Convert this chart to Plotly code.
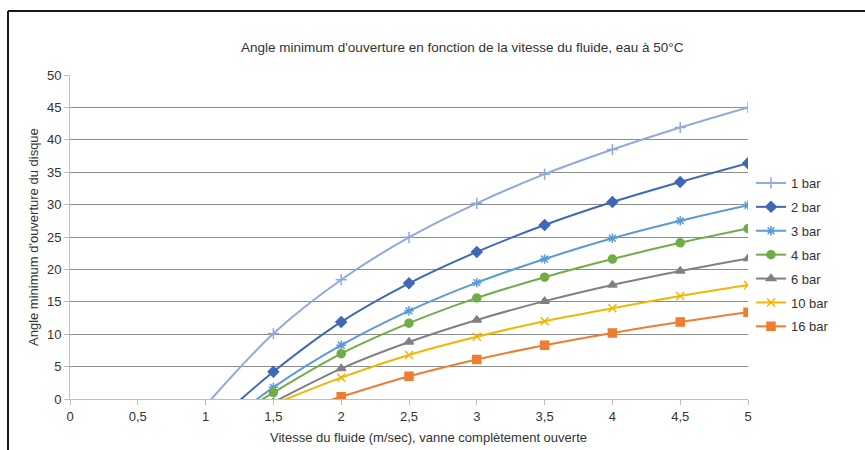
import plotly.graph_objects as go

# ---- data (points below 0 are hidden by the axis range) ----
x_1bar = [1, 1.5, 2, 2.5, 3, 3.5, 4, 4.5, 5]
y_1bar = [-1.0, 10.1, 18.4, 24.95, 30.2, 34.7, 38.5, 41.9, 45.0]

x_2bar = [1, 1.5, 2, 2.5, 3, 3.5, 4, 4.5, 5]
y_2bar = [-4.9, 4.2, 11.9, 17.85, 22.7, 26.85, 30.4, 33.5, 36.4]

x_3bar = [1, 1.5, 2, 2.5, 3, 3.5, 4, 4.5, 5]
y_3bar = [-6.1, 1.8, 8.3, 13.6, 17.95, 21.6, 24.8, 27.5, 29.9]

x_4bar = [1, 1.5, 2, 2.5, 3, 3.5, 4, 4.5, 5]
y_4bar = [-5.6, 1.0, 7.0, 11.7, 15.6, 18.8, 21.6, 24.1, 26.3]

x_6bar = [1.5, 2, 2.5, 3, 3.5, 4, 4.5, 5]
y_6bar = [-0.5, 4.7, 8.8, 12.2, 15.1, 17.6, 19.75, 21.7]

x_10bar = [1.5, 2, 2.5, 3, 3.5, 4, 4.5, 5]
y_10bar = [-0.8, 3.3, 6.8, 9.6, 12.0, 14.0, 15.9, 17.6]

x_16bar = [1.5, 2, 2.5, 3, 3.5, 4, 4.5, 5]
y_16bar = [-2.9, 0.35, 3.5, 6.1, 8.3, 10.2, 11.9, 13.4]

series_names = ["1 bar", "2 bar", "3 bar", "4 bar", "6 bar", "10 bar", "16 bar"]
series_x = [x_1bar, x_2bar, x_3bar, x_4bar, x_6bar, x_10bar, x_16bar]
series_y = [y_1bar, y_2bar, y_3bar, y_4bar, y_6bar, y_10bar, y_16bar]

x_ticks = [0, 0.5, 1, 1.5, 2, 2.5, 3, 3.5, 4, 4.5, 5]
y_ticks = [0, 5, 10, 15, 20, 25, 30, 35, 40, 45, 50]

title_text = "Angle minimum d'ouverture en fonction de la vitesse du fluide, eau à 50°C"
x_title = "Vitesse du fluide (m/sec), vanne complètement ouverte"
y_title = "Angle minimum d'ouverture du disque"

# ---- styles ----
colors = ["#8EA9DB", "#3F68B5", "#5B9BD5", "#70AD47", "#808080", "#F2B600", "#ED7D31"]
symbols = ["cross-thin-open", "diamond", "asterisk-open", "circle", "triangle-up",
           "x-thin-open", "square"]
sizes = [8, 8, 8, 8, 8, 8, 8]

FONT = "Liberation Sans, Arial, Helvetica, sans-serif"

fig = go.Figure()
for name, xs, ys, c, s, ms in zip(series_names, series_x, series_y, colors, symbols, sizes):
    fig.add_trace(go.Scatter(
        x=xs, y=ys, name=name, mode="lines+markers",
        line=dict(color=c, width=2, shape="spline", smoothing=0.9),
        marker=dict(symbol=s, size=ms, color=c, line=dict(color=c, width=1.5)),
        legendgroup=name, cliponaxis=True,
    ))

L, R, T, B = 70, 117, 75, 51
W, H = 865, 450
pw, ph = W - L - R, H - T - B

def px_x(p):
    return (p - L) / pw

def px_y(p):
    return (H - B - p) / ph

fig.update_layout(
    width=W, height=H,
    margin=dict(l=L, r=R, t=T, b=B, pad=0),
    paper_bgcolor="white", plot_bgcolor="white",
    separators=", ",
    font=dict(family=FONT, size=13, color="#333333"),
    showlegend=True,
    legend=dict(
        x=px_x(751), y=px_y(168), xanchor="left", yanchor="top",
        font=dict(family=FONT, size=13, color="#333333"),
        tracegroupgap=4, bgcolor="rgba(0,0,0,0)",
    ),
    xaxis=dict(
        range=[0, 5], tickvals=x_ticks, ticktext=[str(v).replace(".", ",") for v in x_ticks],
        showgrid=False, zeroline=False,
        showline=True, linecolor="#BFBFBF", linewidth=1,
        ticks="outside", ticklen=5, tickcolor="#BFBFBF",
        tickfont=dict(family=FONT, size=13, color="#333333"),
        fixedrange=True,
    ),
    yaxis=dict(
        range=[0, 50], tickvals=y_ticks,
        showgrid=True, gridcolor="#8C8C8C", gridwidth=1, zeroline=False,
        showline=True, linecolor="#BFBFBF", linewidth=1,
        ticks="outside", ticklen=5, tickcolor="#BFBFBF",
        tickfont=dict(family=FONT, size=13, color="#333333"),
        fixedrange=True,
    ),
    annotations=[
        dict(text=title_text, xref="paper", yref="paper", x=px_x(462), y=px_y(47),
             xanchor="center", yanchor="middle", showarrow=False,
             font=dict(family=FONT, size=13.5, color="#333333")),
        dict(text=x_title, xref="paper", yref="paper", x=px_x(428), y=px_y(437),
             xanchor="center", yanchor="middle", showarrow=False,
             font=dict(family=FONT, size=13, color="#333333")),
        dict(text=y_title, xref="paper", yref="paper", x=px_x(33), y=px_y(237),
             xanchor="center", yanchor="middle", showarrow=False, textangle=-90,
             font=dict(family=FONT, size=13, color="#333333")),
    ],
    shapes=[
        dict(type="line", xref="paper", yref="paper", x0=px_x(8), x1=px_x(866),
             y0=px_y(11), y1=px_y(11), line=dict(color="#1A1A1A", width=2)),
        dict(type="line", xref="paper", yref="paper", x0=px_x(8), x1=px_x(8),
             y0=px_y(11), y1=px_y(451), line=dict(color="#1A1A1A", width=2)),
    ],
)

fig.write_html(
    "out.html",
    config={"displayModeBar": False, "staticPlot": True},
    post_script="document.body.style.margin='0';document.body.style.overflow='hidden';",
)
